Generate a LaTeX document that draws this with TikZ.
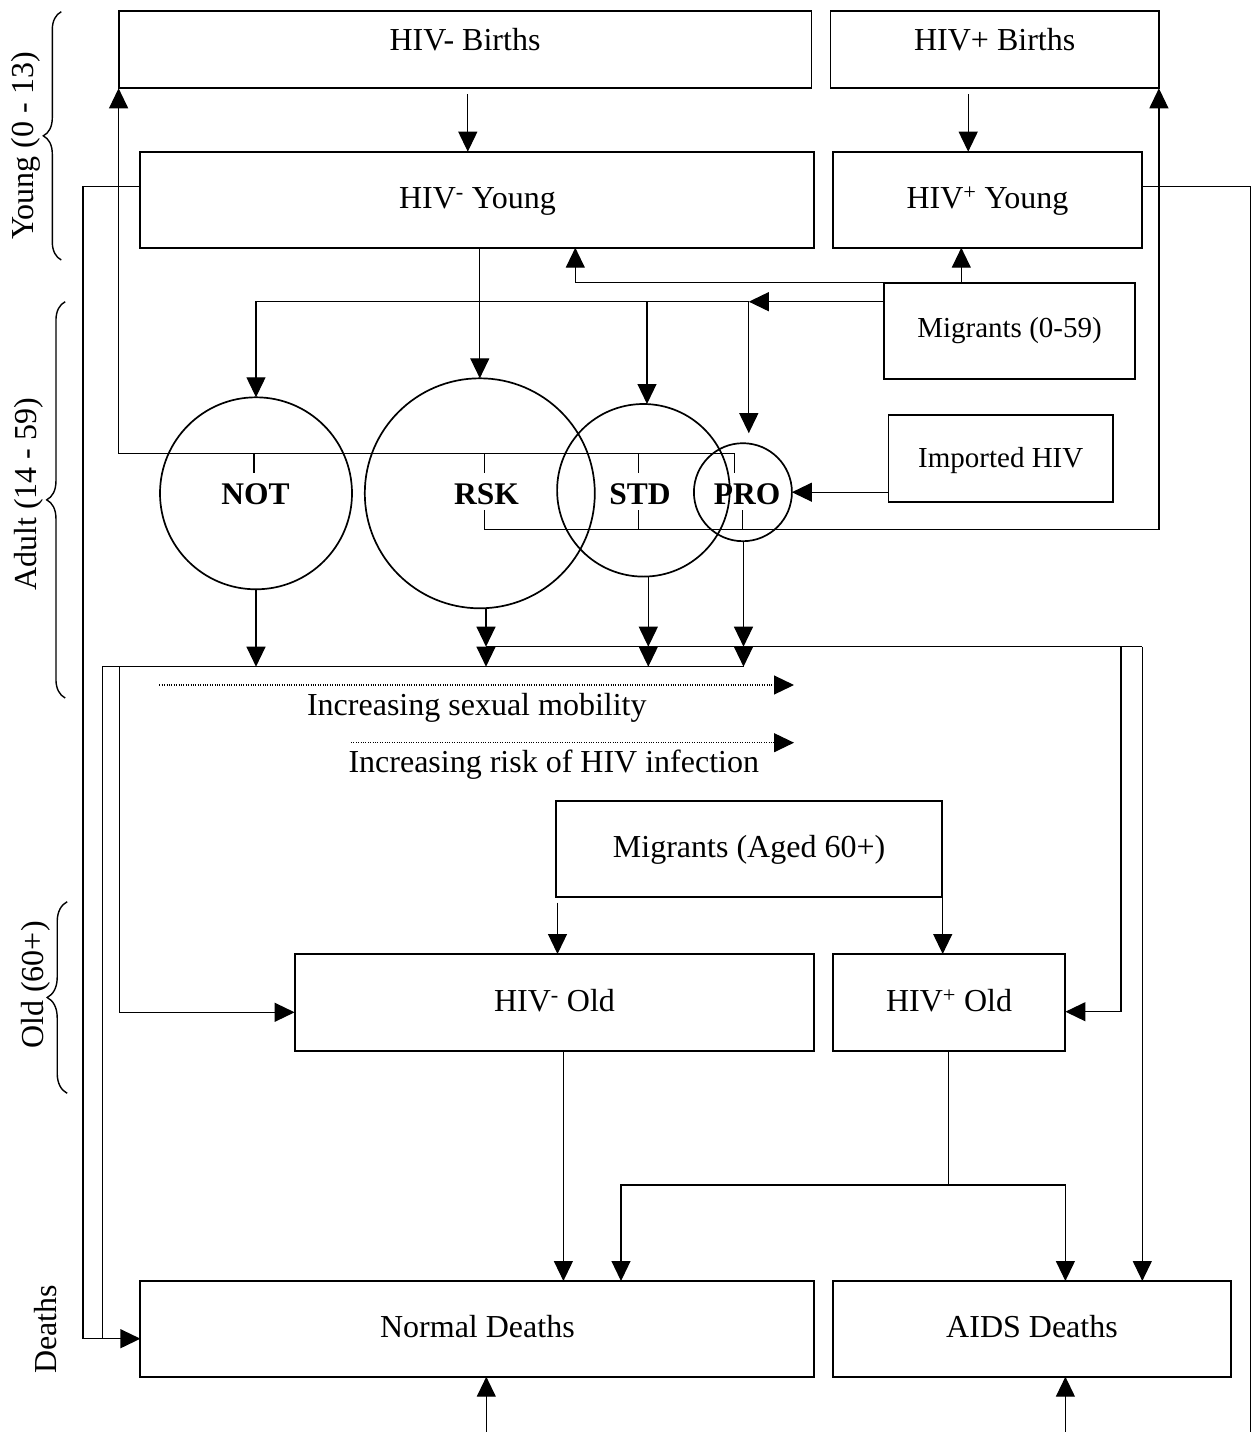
\documentclass[tikz,border=0pt]{standalone}
\usepackage{fontspec}
\setmainfont{Liberation Serif}
\usetikzlibrary{arrows.meta,decorations.pathreplacing,calc}
\begin{document}
\begin{tikzpicture}[x=1pt,y=-1pt,
  box/.style={draw,line width=1.9pt,rectangle,inner sep=0pt,outer sep=0pt,align=center,
     font=\fontsize{32}{38}\selectfont,text height=22.4pt,text depth=4.2pt},
  smallbox/.style={box,font=\fontsize{29}{35}\selectfont},
  circ/.style={draw,line width=1.7pt,circle,inner sep=0pt,outer sep=0pt},
  lab/.style={font=\bfseries\fontsize{31.5}{36}\selectfont,inner sep=0pt},
  txt/.style={font=\fontsize{32}{38}\selectfont,inner sep=0pt},
  side/.style={txt,rotate=90},
  conn/.style={line width=1.2pt},
  arr/.style={conn,-{Triangle[length=20pt,width=19pt]}},
  dotarr/.style={line width=1.1pt,dash pattern=on 1pt off 1.4pt,-{Triangle[length=20pt,width=19pt]}},
  brc/.style={line width=1.4pt,decorate,decoration={brace,amplitude=#1}}
]
\useasboundingbox (0,0) rectangle (1252,1432);

% ---------- boxes ----------
\node[box,minimum width=692.9pt,minimum height=77.3pt] (bneg) at (465.05,49.65) {\raisebox{8pt}{HIV- Births}};
\node[box,minimum width=328.4pt,minimum height=77.3pt] (bpos) at (994.7,49.65) {\raisebox{8pt}{HIV+ Births}};
\node[box,minimum width=674pt,minimum height=96pt] (yneg) at (477.4,199.7) {HIV\textsuperscript{-} Young};
\node[box,minimum width=309.7pt,minimum height=96pt] (ypos) at (987.45,199.7) {HIV\textsuperscript{+} Young};
\node[smallbox,minimum width=251pt,minimum height=96pt] (mig) at (1009.5,330.7) {\raisebox{2.5pt}{Migrants (0-59)}};
\node[smallbox,minimum width=224.5pt,minimum height=87pt] (imp) at (1000.75,458.2) {Imported HIV};
\node[box,minimum width=385.6pt,minimum height=95.7pt] (mig60) at (749.1,848.85) {Migrants (Aged 60+)};
\node[box,minimum width=519.8pt,minimum height=97pt] (oneg) at (554.5,1002.5) {HIV\textsuperscript{-} Old};
\node[box,minimum width=232.8pt,minimum height=97pt] (opos) at (949,1002.5) {HIV\textsuperscript{+} Old};
\node[box,minimum width=674pt,minimum height=95.7pt] (dnorm) at (477.4,1328.85) {Normal Deaths};
\node[box,minimum width=398.8pt,minimum height=95.7pt] (daids) at (1032,1328.85) {AIDS Deaths};

% ---------- circles ----------
\node[circ,minimum size=192pt] (cnot) at (256,493.3) {};
\node[circ,minimum size=230pt] (crsk) at (479.8,493.3) {};
\node[circ,minimum size=172.6pt] (cstd) at (643.4,490.3) {};
\node[circ,minimum size=98pt] (cpro) at (742.9,492.2) {};
\node[lab] (lnot) at (255.4,494) {NOT};
\node[lab] (lrsk) at (486.5,494) {RSK};
\node[lab] (lstd) at (640,494) {STD};
\node[lab] (lpro) at (747,494) {PRO};

% ---------- side labels and braces ----------
\node[side] (sy) at (26,146) {Young (0 - 13)};
\node[side] (sa) at (28.7,494.2) {Adult (14 - 59)};
\node[side] (so) at (35.6,985) {Old (60+)};
\node[side] (sd) at (45.5,1329.2) {Deaths};
\draw[brc=18pt] (61.3,260) -- (61.3,11.7);
\draw[brc=18.5pt] (65.2,698) -- (65.2,301.7);
\draw[brc=20pt] (67.2,1093.3) -- (67.2,901.7);

% ---------- helper coordinates ----------
\coordinate (xA) at (467.8,0);
\coordinate (xB) at (968.2,0);
\coordinate (xL1) at (83,0);
\coordinate (xL2) at (102.8,0);
\coordinate (xL3) at (119.4,0);
\coordinate (yYL) at (0,186.7);
\coordinate (yD) at (0,1338.7);
\coordinate (xR) at (1250.4,1432);
\coordinate (yT1) at (0,453.3);
\coordinate (yT1b) at (0,472.7);
\coordinate (yT2) at (0,529.3);
\coordinate (yT2b) at (0,510);
\coordinate (xNOTt) at (254,0);
\coordinate (xRSKt) at (484.4,0);
\coordinate (xSTDt) at (638.2,0);
\coordinate (xPROt1) at (734.6,0);
\coordinate (xPROt2) at (742.3,0);
\coordinate (xMy) at (961.3,0);
\coordinate (xMn) at (575.3,0);
\coordinate (yM2) at (0,301.7);
\coordinate (xPRO) at (748.8,0);
\coordinate (xSTDa) at (647,0);
\coordinate (yP) at (0,646.7);
\coordinate (yN) at (0,666.7);
\coordinate (xRd) at (486,0);
\coordinate (xSd) at (648.3,0);
\coordinate (xPd) at (743.5,0);
\coordinate (xV1) at (1120.9,0);
\coordinate (xV2) at (1142.3,0);
\coordinate (yOp) at (0,1011.7);
\coordinate (yOn) at (0,1012.3);
\coordinate (xM6a) at (557.5,0);
\coordinate (xM6b) at (942.7,0);
\coordinate (xOn) at (563.4,0);
\coordinate (xOp) at (948.8,0);
\coordinate (ySp) at (0,1185);
\coordinate (xSpL) at (621,0);
\coordinate (xBn) at (486.3,1432);
\coordinate (xBa) at (1065.4,1432);
\coordinate (d1s) at (159.3,685);
\coordinate (d1e) at (794,685);
\coordinate (d2s) at (351,742.7);
\coordinate (d2e) at (794,742.7);

% ---------- connectors ----------
% births -> young
\draw[arr,shorten <=6pt] (xA |- bneg.south) -- (xA |- yneg.north);
\draw[arr,shorten <=6pt] (xB |- bpos.south) -- (xB |- ypos.north);
% young exits
\draw[arr] (yneg.west |- yYL) -| (xL1 |- yD) -- (dnorm.west |- yD);
\draw[conn] (ypos.east |- yYL) -| (xR);
% young -> RSK
\draw[arr] (crsk.north |- yneg.south) -- (crsk.north);
% migrants -> young
\draw[arr] (xMy |- mig.north) -- (xMy |- ypos.south);
\draw[arr] (xMy |- mig.north) -| (xMn |- yneg.south);
% migrants -> adult groups
\draw[arr] (mig.west |- yM2) -- (xPRO |- yM2);
\draw[arr] (xPRO |- yM2) -| (cnot.north);
\draw[arr] (xSTDa |- yM2) -- (xSTDa |- cstd.north);
\draw[arr,shorten >=10pt] (xPRO |- yM2) -- (xPRO |- cpro.north);
% imported HIV
\draw[arr] (imp.west |- cpro.east) -- (cpro.east);
% births from adults (HIV-)
\draw[arr] (xPROt1 |- yT1b) -- (xPROt1 |- yT1) -- (bneg.south west |- yT1) -- (bneg.south west);
\draw[conn] (xNOTt |- yT1) -- (xNOTt |- yT1b);
\draw[conn] (xRSKt |- yT1) -- (xRSKt |- yT1b);
\draw[conn] (xSTDt |- yT1) -- (xSTDt |- yT1b);
% births from adults (HIV+)
\draw[arr] (xRSKt |- yT2b) -- (xRSKt |- yT2) -- (bpos.south east |- yT2) -- (bpos.south east);
\draw[conn] (xSTDt |- yT2b) -- (xSTDt |- yT2);
\draw[conn] (xPROt2 |- yT2b) -- (xPROt2 |- yT2);
% circles down
\draw[arr] (cnot.south) -- (cnot.south |- yN);
\draw[arr] (xRd |- crsk.south) -- (xRd |- yP);
\draw[arr] (xRd |- yP) -- (xRd |- yN);
\draw[arr] (xSd |- cstd.south) -- (xSd |- yP);
\draw[arr] (xSd |- yP) -- (xSd |- yN);
\draw[arr] (xPd |- cpro.south) -- (xPd |- yP);
\draw[arr] (xPd |- yP) -- (xPd |- yN);
% HIV+ flow
\draw[conn] (xRd |- yP) -- (xV2 |- yP);
\draw[arr] (xV2 |- yP) -- (xV2 |- daids.north);
\draw[arr] (xV1 |- yP) -- (xV1 |- yOp) -- (opos.east |- yOp);
% HIV- flow
\draw[conn] (xL2 |- yD) -- (xL2 |- yN) -- (xPd |- yN);
\draw[arr] (xL3 |- yN) -- (xL3 |- yOn) -- (oneg.west |- yOn);
% dotted arrows
\draw[dotarr] (d1s) -- (d1e);
\draw[dotarr] (d2s) -- (d2e);
\node[txt,anchor=base] (tsex) at (476.8,715.7) {Increasing sexual mobility};
\node[txt,anchor=base] (trisk) at (553.8,772.7) {Increasing risk of HIV infection};
% migrants 60+
\draw[arr,shorten <=6pt] (xM6a |- mig60.south) -- (xM6a |- oneg.north);
\draw[arr] (xM6b |- mig60.south) -- (xM6b |- opos.north);
% old -> deaths
\draw[arr] (xOn |- oneg.south) -- (xOn |- dnorm.north);
\draw[conn] (xOp |- opos.south) -- (xOp |- ySp);
\draw[arr] (xOp |- ySp) -| (xSpL |- dnorm.north);
\draw[arr] (xOp |- ySp) -| (opos.east |- daids.north);
% bottom arrows
\draw[arr] (xBn) -- (xBn |- dnorm.south);
\draw[arr] (xBa) -- (xBa |- daids.south);
\end{tikzpicture}
\end{document}
